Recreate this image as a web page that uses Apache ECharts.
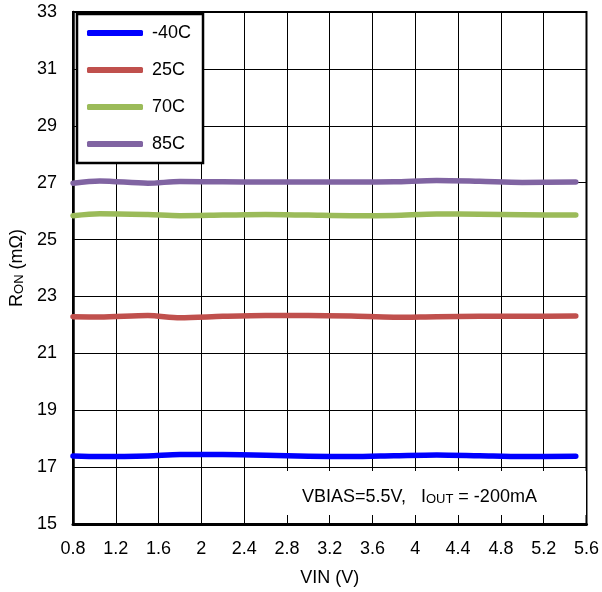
<!DOCTYPE html>
<html>
<head>
<meta charset="utf-8">
<script src="https://cdn.jsdelivr.net/npm/echarts@6/dist/echarts.min.js"></script>
<style>
html,body{margin:0;padding:0;background:#fff;}
#c{width:602px;height:592px;}
</style>
</head>
<body>
<div id="c"></div>
<script>
const vin = [0.8, 1.05, 1.5, 1.8, 2.2, 2.6, 3.0, 3.4, 3.8, 4.2, 4.6, 5.0, 5.5];
const seriesNames = ['-40C', '25C', '70C', '85C'];
const ronM40 = [17.39, 17.37, 17.39, 17.44, 17.44, 17.42, 17.38, 17.37, 17.40, 17.43, 17.40, 17.37, 17.38];
const ron25 = [22.29, 22.28, 22.33, 22.25, 22.30, 22.33, 22.33, 22.31, 22.27, 22.29, 22.30, 22.30, 22.31];
const ron70 = [25.84, 25.91, 25.88, 25.84, 25.86, 25.88, 25.86, 25.84, 25.85, 25.90, 25.89, 25.87, 25.86];
const ron85 = [26.98, 27.06, 26.98, 27.04, 27.03, 27.02, 27.02, 27.02, 27.03, 27.08, 27.05, 27.01, 27.02];
const xTicks = [0.8, 1.2, 1.6, 2, 2.4, 2.8, 3.2, 3.6, 4, 4.4, 4.8, 5.2, 5.6];
const yTicks = [15, 17, 19, 21, 23, 25, 27, 29, 31, 33];

const colors = ['#0000FF', '#C0504D', '#9BBB59', '#8064A2'];
const allVals = [ronM40, ron25, ron70, ron85];
const FONT = 'Liberation Sans, Arial, sans-serif';
const FS = 18;

const chart = echarts.init(document.getElementById('c'), null, {renderer: 'canvas'});
const option = {
  animation: false,
  backgroundColor: '#fff',
  textStyle: {fontFamily: FONT, color: '#000'},
  grid: {left: 73, right: 14, top: 12, bottom: 68, show: true, borderColor: '#000', borderWidth: 2, backgroundColor: 'transparent'},
  legend: {
    orient: 'vertical', left: 77, top: 14,
    padding: [10, 12, 10, 10],
    backgroundColor: '#fff', borderColor: '#000', borderWidth: 2.5,
    itemWidth: 56, itemHeight: 6, itemGap: 19,
    icon: 'roundRect',
    textStyle: {fontSize: FS, color: '#000', fontFamily: FONT, padding: [0, 0, 0, 4]},
    data: seriesNames, z: 10
  },
  xAxis: {
    type: 'value', min: xTicks[0], max: xTicks[xTicks.length - 1], interval: 0.4,
    name: 'VIN (V)', nameLocation: 'middle', nameGap: 45,
    nameTextStyle: {fontSize: FS, color: '#000', fontFamily: FONT},
    axisLine: {show: true, lineStyle: {color: '#000', width: 3}},
    axisTick: {show: false},
    axisLabel: {fontSize: FS, color: '#000', margin: 16, fontFamily: FONT,
      formatter: v => String(Math.round(v * 10) / 10)},
    splitLine: {show: true, lineStyle: {color: '#000', width: 1}}
  },
  yAxis: {
    type: 'value', min: yTicks[0], max: yTicks[yTicks.length - 1], interval: 1,
    name: 'R{sub|ON} (mΩ)', nameLocation: 'middle', nameGap: 40, nameRotate: 90,
    nameTextStyle: {fontSize: FS, color: '#000', fontFamily: FONT,
      rich: {sub: {fontSize: 13, verticalAlign: 'bottom', lineHeight: 12, fontFamily: FONT, color: '#000'}}},
    axisLine: {show: true, lineStyle: {color: '#000', width: 2.5}},
    axisTick: {show: false},
    axisLabel: {fontSize: FS, color: '#000', margin: 16, fontFamily: FONT,
      formatter: v => (yTicks.indexOf(Math.round(v)) >= 0 ? String(Math.round(v)) : '')},
    splitLine: {show: true, lineStyle: {color: ['#000', 'rgba(0,0,0,0)'], width: 1}}
  },
  graphic: [
    {type: 'rect', left: 247, top: 471, shape: {width: 339, height: 44}, style: {fill: '#fff'}, z: 1, silent: true},
    {type: 'text', left: 302, top: 488, z: 3, silent: true,
      style: {
        text: 'VBIAS=5.5V,   I{sub|OUT} = -200mA',
        font: FS + 'px ' + FONT, fill: '#000',
        rich: {sub: {fontSize: 13, fontFamily: FONT, verticalAlign: 'bottom', lineHeight: 12, fill: '#000'}}
      }}
  ],
  series: seriesNames.map((n, i) => ({
    name: n, type: 'line', symbol: 'none', smooth: 0.3, z: 5,
    lineStyle: {color: colors[i], width: 5.5, cap: 'round', join: 'round'},
    itemStyle: {color: colors[i]},
    data: vin.map((x, j) => [x, allVals[i][j]])
  }))
};
chart.setOption(option);
</script>
</body>
</html>
